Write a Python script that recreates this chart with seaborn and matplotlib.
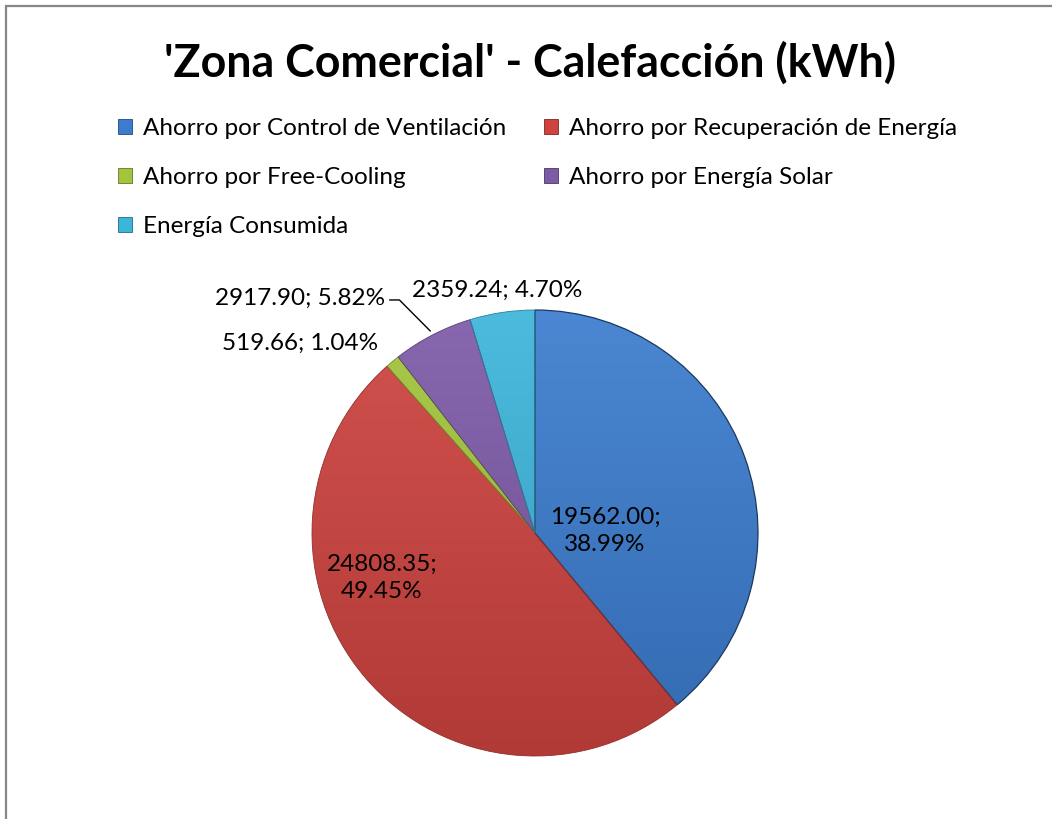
import numpy as np
import matplotlib
matplotlib.use("Agg")
import matplotlib.pyplot as plt
import matplotlib.colors as mcolors
from matplotlib.patches import Rectangle
from matplotlib.lines import Line2D
import seaborn as sns

# Heating energy breakdown for the commercial zone (kWh)
categories = [
    "Ahorro por Control de Ventilación",
    "Ahorro por Recuperación de Energía",
    "Ahorro por Free-Cooling",
    "Ahorro por Energía Solar",
    "Energía Consumida",
]
values = [19562.00, 24808.35, 519.66, 2917.90, 2359.24]
title = "'Zona Comercial' - Calefacción (kWh)"

colors = ["#3B7CCE", "#CE433F", "#A3C53C", "#7D5AA8", "#3CB5DA"]

sns.set_theme(style="white")
plt.rcParams["font.family"] = ["Lato", "DejaVu Sans"]
plt.rcParams["text.color"] = "black"

W, H = 1052, 819
fig = plt.figure(figsize=(W / 100, H / 100), dpi=100)
fig.patch.set_facecolor("white")

# Pie axes: centre (535, 533) px, radius 223 px
cx, cy, r = 535, 533, 223
ax = fig.add_axes([(cx - r) / W, (H - cy - r) / H, 2 * r / W, 2 * r / H])
wedges, _ = ax.pie(values, colors=colors, startangle=90, counterclock=False,
                   radius=1.0, wedgeprops=dict(linewidth=0.8))
ax.set_xlim(-1, 1)
ax.set_ylim(-1, 1)
ax.set_aspect("equal")
ax.axis("off")


def shade(c, f):
    rgb = np.array(mcolors.to_rgb(c))
    if f >= 0:
        return rgb + (1 - rgb) * f
    return rgb * (1 + f)


# Vertical light-to-dark gradient clipped to each wedge
yy = np.linspace(0, 1, 256)[:, None]
for i, (w, c) in enumerate(zip(wedges, colors)):
    top, bot = shade(c, 0.08), shade(c, -0.14)
    img = top[None, None, :] * (1 - yy[..., None]) + bot[None, None, :] * yy[..., None]
    im = ax.imshow(img, extent=(-1, 1, -1, 1), origin="upper", zorder=2,
                   interpolation="bilinear", aspect="auto")
    im.set_clip_path(w)
    w.set_edgecolor(shade(c, -0.55 if i == 0 else -0.3))
    w.set_linewidth(0.9 if i == 0 else 0.6)
    w.set_zorder(3)
    w.set_facecolor("none")

# Value / percentage labels
total = sum(values)
pct = [v / total * 100 for v in values]
lab = [f"{v:.2f}; {p:.2f}%" for v, p in zip(values, pct)]
fs = 17.5
ax.text(0.314, 0.008, lab[0].replace("; ", ";\n"), ha="center", va="center",
        fontsize=fs, linespacing=1.35, zorder=5)
ax.text(-0.686, -0.2, lab[1].replace("; ", ";\n"), ha="center", va="center",
        fontsize=fs, linespacing=1.35, zorder=5)
ax.text(-1.054, 0.852, lab[2], ha="center", va="center", fontsize=fs, zorder=5)
ax.text(-1.054, 1.054, lab[3], ha="center", va="center", fontsize=fs, zorder=5)
ax.text(-0.170, 1.090, lab[4], ha="center", va="center", fontsize=fs, zorder=5)

# Leader line to the solar wedge
w3 = wedges[3]
mid = np.deg2rad((w3.theta1 + w3.theta2) / 2)
ex, ey = 1.02 * np.cos(mid), 1.02 * np.sin(mid)
ax.add_line(Line2D([-0.652, -0.608, ex], [1.045, 1.045, ey], color="black",
                   lw=1.0, clip_on=False, zorder=5))

# Title
fig.text(530 / W, 1 - 63 / H, title, ha="center", va="center",
         fontsize=32.2, fontweight="bold")

# Legend laid out row by row in two columns
handles = [Rectangle((0, 0), 1, 1, facecolor=c, edgecolor=shade(c, -0.4), lw=0.6)
           for c in colors]
order = [0, 2, 4, 1, 3]
fig.legend([handles[i] for i in order], [categories[i] for i in order],
           loc="upper left", bbox_to_anchor=(118 / W, 1 - 118 / H), ncol=2,
           frameon=False, fontsize=17.5, handlelength=0.58, handleheight=0.58,
           handletextpad=0.45, labelspacing=1.15, columnspacing=1.55,
           borderpad=0, borderaxespad=0)

# Chart-area border
fig.patches.append(Rectangle((5.5 / W, -0.05), 1.2, (H - 5.5) / H + 0.05,
                             transform=fig.transFigure, fill=False,
                             edgecolor="#868686", lw=1.6))

fig.savefig("out.png", dpi=100)
